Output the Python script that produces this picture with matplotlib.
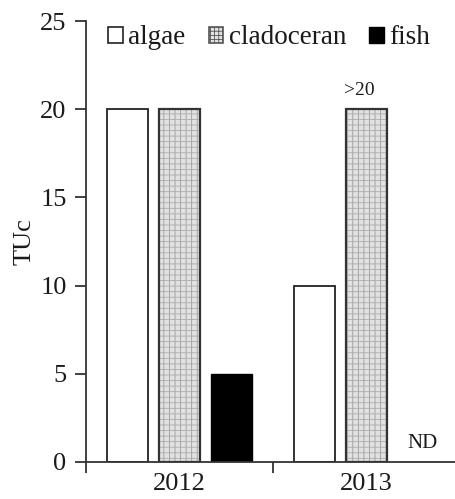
import numpy as np
import matplotlib
matplotlib.use("Agg")
import matplotlib.pyplot as plt
from matplotlib.patches import Patch

years = ["2012", "2013"]
series = ["algae", "cladoceran", "fish"]
algae = [20, 10]
cladoceran = [20, 20]
fish = [5, np.nan]  # no fish result for 2013
above_note = ">20"
nd_note = "ND"
y_ticks = [0, 5, 10, 15, 20, 25]

plt.rcParams["font.family"] = ["Liberation Serif", "DejaVu Serif"]
plt.rcParams["hatch.linewidth"] = 0.6

fig = plt.figure(figsize=(4.56, 4.99), dpi=100)
ax = fig.add_axes([86 / 456, 37 / 499, 374 / 456, 441 / 499])

x = np.arange(len(years))
w = 0.22
off = 0.28
edge = "#222222"
txt = "#1a1a1a"

ax.bar(x - off, algae, w, facecolor="white", edgecolor=edge, linewidth=1.3, zorder=2)
# stippled fill, then a dark outline on top
ax.bar(x, cladoceran, w, facecolor="#e2e2e2", edgecolor="#9a9a9a", hatch="|||",
       linewidth=0, zorder=2)
ax.bar(x, cladoceran, w, facecolor="none", edgecolor="#aaaaaa", hatch="---",
       linewidth=0, zorder=2)
ax.bar(x, cladoceran, w, facecolor="none", edgecolor="#333333", linewidth=1.6, zorder=3)
ax.bar(x + off, np.nan_to_num(fish), w, facecolor="black", edgecolor="black",
       linewidth=1.0, zorder=2)

ax.text(x[1] - 0.04, cladoceran[1] + 0.6, above_note, ha="center", va="bottom",
        fontsize=14, color=txt)
ax.text(x[1] + off + 0.02, 0.5, nd_note, ha="center", va="bottom", fontsize=15, color=txt)

ax.set_xlim(-0.5, 1.5)
ax.set_ylim(0, 25)
ax.set_yticks(y_ticks)
ax.set_xticks(x)
ax.set_xticklabels(years)
ax.set_xticks([-0.5, 0.5], minor=True)
ax.tick_params(axis="x", which="major", length=0, pad=8, labelsize=19, labelcolor=txt)
ax.tick_params(axis="x", which="minor", length=8, width=1.3, direction="out", color="#333333")
ax.tick_params(axis="y", length=8, width=1.3, direction="out", labelsize=19, pad=6,
               color="#333333", labelcolor=txt)
for s in ["top", "right"]:
    ax.spines[s].set_visible(False)
for s in ["left", "bottom"]:
    ax.spines[s].set_linewidth(1.3)
    ax.spines[s].set_color("#333333")
ax.set_ylabel("TUc", fontsize=19, labelpad=3, color=txt)

handles = [
    Patch(facecolor="white", edgecolor=edge, linewidth=1.2),
    Patch(facecolor="#e2e2e2", edgecolor="#555555", hatch="++++", linewidth=1.2),
    Patch(facecolor="black", edgecolor="black", linewidth=1.0),
]
fig.legend(handles, series, loc="center left", bbox_to_anchor=(108 / 456, 1 - 38 / 499),
           ncol=3, frameon=False, fontsize=19.5, handlelength=0.55, handleheight=0.55,
           handletextpad=0.2, columnspacing=0.85, borderpad=0, borderaxespad=0,
           labelcolor=txt)

fig.savefig("out.png", dpi=100)
